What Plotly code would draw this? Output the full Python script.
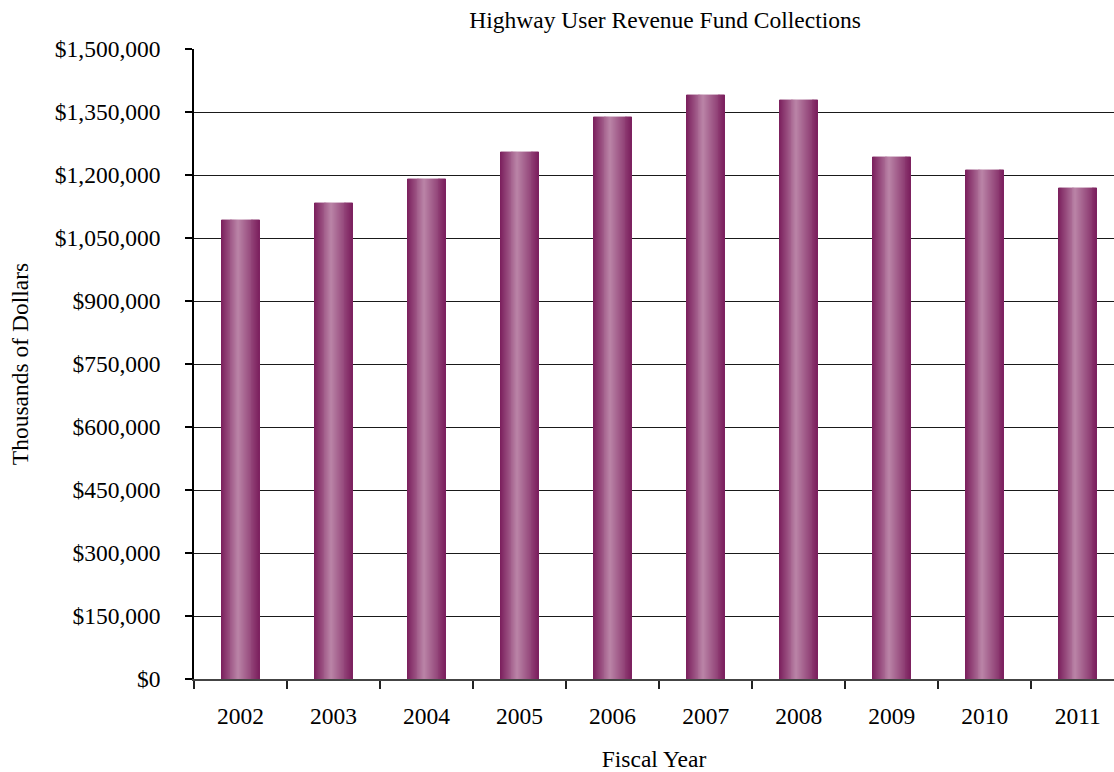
import plotly.graph_objects as go

years = ["2002", "2003", "2004", "2005", "2006", "2007", "2008", "2009", "2010", "2011"]
collections = [1093600, 1134000, 1191200, 1255500, 1338800, 1391200, 1379300, 1243600, 1212600, 1169800]

title_text = "Highway User Revenue Fund Collections"
x_title = "Fiscal Year"
y_title = "Thousands of Dollars"

FONT = "Liberation Serif, Times New Roman, serif"

# horizontal gradient stops for the bars (position, rgb)
stops = [(0.0, (122, 30, 92)), (0.45, (186, 132, 167)), (1.0, (124, 32, 94))]


def grad(t):
    for (p0, c0), (p1, c1) in zip(stops[:-1], stops[1:]):
        if p0 <= t <= p1:
            f = (t - p0) / (p1 - p0)
            c = [round(a + (b - a) * f) for a, b in zip(c0, c1)]
            return f"rgb({c[0]},{c[1]},{c[2]})"
    return "rgb(124,32,94)"


bar_w = 0.41
N = 40
slice_w = bar_w / N

fig = go.Figure()
for i in range(N):
    t = (i + 0.5) / N
    w = slice_w * (1.6 if i < N - 1 else 1.0)
    fig.add_trace(go.Bar(
        x=years, y=collections,
        width=[w] * len(years),
        offset=[-bar_w / 2 + i * slice_w] * len(years),
        marker=dict(color=grad(t), line=dict(width=0)),
        showlegend=False, hoverinfo="skip",
    ))

fig.update_layout(
    width=1114, height=772,
    margin=dict(l=194, r=0, t=49, b=93),
    paper_bgcolor="white", plot_bgcolor="white",
    barmode="overlay",
    font=dict(family=FONT, size=23.5, color="black"),
    title=dict(text=title_text, x=0.597, xanchor="center", y=0.974, yanchor="middle",
               font=dict(family=FONT, size=23.5, color="black")),
    showlegend=False,
)

fig.update_xaxes(
    type="category", range=[-0.5, 9.39],
    tickson="boundaries", ticks="outside", ticklen=8, tickcolor="#222", tickwidth=1.5,
    showline=True, linecolor="#444", linewidth=2,
    showgrid=False,
    ticklabelstandoff=15,
    title=dict(text=x_title, standoff=22, font=dict(family=FONT, size=23.5)),
)

fig.update_yaxes(
    range=[0, 1500000], dtick=150000, tick0=0,
    tickprefix="$", tickformat=",d",
    ticks="outside", ticklen=7, tickcolor="black", tickwidth=1.5,
    showline=True, linecolor="black", linewidth=1.5,
    showgrid=True, gridcolor="#1a1a1a", gridwidth=1.2,
    zeroline=False,
    ticklabelstandoff=20,
    title=dict(text=y_title, standoff=20, font=dict(family=FONT, size=23.5)),
)

fig.write_html("out.html")
